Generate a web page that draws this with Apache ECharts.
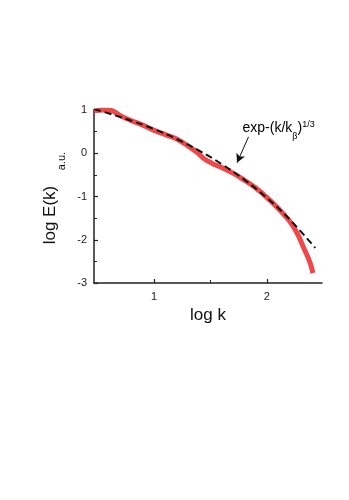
<!DOCTYPE html>
<html>
<head>
<meta charset="utf-8">
<script src="https://cdn.jsdelivr.net/npm/echarts@6/dist/echarts.min.js"></script>
<style>
    html, body { margin: 0; padding: 0; background: #fff; }
    #chart { width: 349px; height: 500px; }
</style>
</head>
<body>
<div id="chart"></div>
<script>
    // measured spectrum (log k, log E)
    var measX = [0.467, 0.55, 0.62, 0.7, 0.8, 0.9, 1.0, 1.1, 1.2, 1.3, 1.38, 1.45, 1.52, 1.6, 1.7, 1.8, 1.9, 2.0, 2.1, 2.2, 2.27, 2.33, 2.38, 2.41];
    var measY = [0.98, 1.0, 0.99, 0.87, 0.75, 0.65, 0.53, 0.43, 0.33, 0.17, 0.02, -0.14, -0.24, -0.33, -0.46, -0.62, -0.8, -1.02, -1.27, -1.56, -1.85, -2.2, -2.5, -2.77];
    // stretched exponential fit, dashed
    var fitX = [0.467, 0.6, 0.8, 1.0, 1.2, 1.4, 1.6, 1.8, 2.0, 2.2, 2.43];
    var fitY = [1.02, 0.92, 0.75, 0.56, 0.33, 0.06, -0.25, -0.61, -1.03, -1.52, -2.19];
    // axis ticks
    var xMajor = [1, 2];
    var xMinor = [1.5];
    var yMinor = [0.5, -0.5, -1.5, -2.5];
    // arrow of the annotation (from, to)
    var arrowFrom = [1.838, 0.38];
    var arrowTo = [1.736, -0.22];

    function pairs(xs, ys) {
        var out = [];
        for (var i = 0; i < xs.length; i++) out.push([xs[i], ys[i]]);
        return out;
    }

    var font = 'Arial, "Liberation Sans", sans-serif';
    var chart = echarts.init(document.getElementById('chart'));

    var xMin = 0.467, xMax = 2.49;
    var axisLine = { show: true, onZero: false, lineStyle: { color: '#222', width: 1.5 } };

    var option = {
        backgroundColor: '#fff',
        animation: false,
        grid: { left: 94, right: 27, top: 110, bottom: 217 },
        xAxis: [{
            type: 'value',
            min: xMin,
            max: xMax,
            name: 'log k',
            nameLocation: 'middle',
            nameGap: 24,
            nameTextStyle: { fontSize: 17, color: '#111', fontFamily: font },
            axisLine: axisLine,
            axisTick: { inside: true, length: 4, customValues: xMajor, lineStyle: { color: '#222', width: 1.2 } },
            axisLabel: { customValues: xMajor, margin: 8, fontSize: 11, color: '#222', fontFamily: font },
            splitLine: { show: false }
        }, {
            type: 'value',
            min: xMin,
            max: xMax,
            position: 'bottom',
            axisLine: { show: false, onZero: false },
            axisTick: { inside: true, length: 3, customValues: xMinor, lineStyle: { color: '#222', width: 1 } },
            axisLabel: { show: false },
            splitLine: { show: false }
        }],
        yAxis: [{
            type: 'value',
            min: -3,
            max: 1,
            interval: 1,
            axisLine: axisLine,
            axisTick: { inside: true, length: 4, lineStyle: { color: '#222', width: 1.2 } },
            axisLabel: { margin: 7, fontSize: 11, color: '#222', fontFamily: font },
            splitLine: { show: false }
        }, {
            type: 'value',
            min: -3,
            max: 1,
            position: 'left',
            axisLine: { show: false, onZero: false },
            axisTick: { inside: true, length: 3, customValues: yMinor, lineStyle: { color: '#222', width: 1 } },
            axisLabel: { show: false },
            splitLine: { show: false }
        }],
        graphic: [{
            type: 'text',
            x: 50,
            y: 215,
            rotation: Math.PI / 2,
            style: { text: 'log E(k)', font: '17px ' + font, fill: '#111', align: 'center', verticalAlign: 'middle' }
        }, {
            type: 'text',
            x: 62,
            y: 161,
            rotation: Math.PI / 2,
            style: { text: 'a.u.', font: '11px ' + font, fill: '#111', align: 'center', verticalAlign: 'middle' }
        }, {
            type: 'text',
            x: 242.5,
            y: 128.5,
            style: {
                text: '{n|exp-(k/k}{sub|β}{n|)}{sup|1/3}',
                align: 'left',
                verticalAlign: 'middle',
                rich: {
                    n: { fontSize: 14, lineHeight: 29, verticalAlign: 'middle', fontFamily: font, color: '#111' },
                    sub: { fontSize: 9, verticalAlign: 'bottom', padding: [0, 0, 2, 0], fontFamily: font, color: '#111' },
                    sup: { fontSize: 9, verticalAlign: 'top', padding: [6, 0, 0, 0], fontFamily: font, color: '#111' }
                }
            }
        }],
        series: [{
            type: 'line',
            data: pairs(measX, measY),
            smooth: 0.4,
            showSymbol: false,
            lineStyle: { color: '#f04848', width: 5 },
            z: 2,
            markLine: {
                silent: true,
                symbol: ['none', 'arrow'],
                symbolSize: [7, 9],
                label: { show: false },
                lineStyle: { color: '#111', width: 1, type: 'solid' },
                data: [[{ coord: arrowFrom }, { coord: arrowTo }]]
            }
        }, {
            type: 'line',
            data: pairs(fitX, fitY),
            smooth: 0.4,
            showSymbol: false,
            lineStyle: { color: '#111', width: 2, type: [7, 4] },
            z: 3
        }]
    };
    chart.setOption(option);
</script>
</body>
</html>
